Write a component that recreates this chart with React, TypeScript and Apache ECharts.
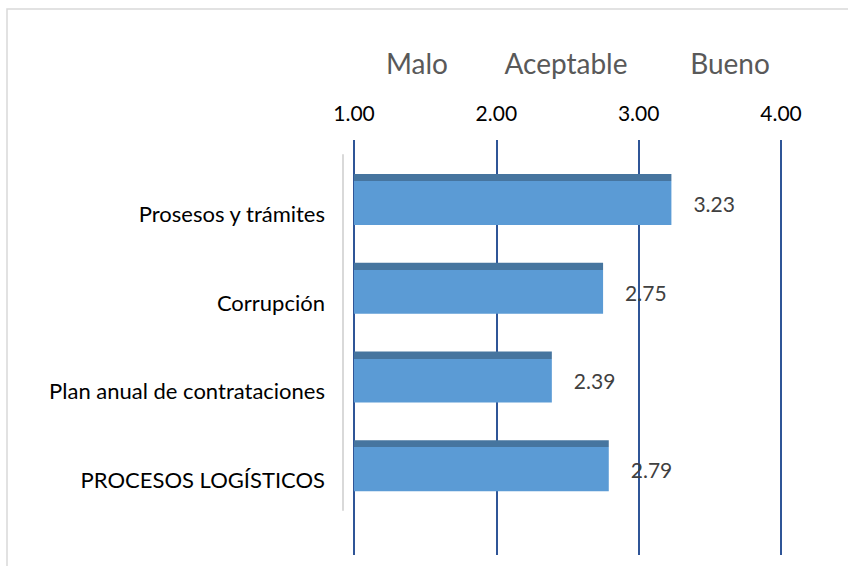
import React, { useEffect, useRef } from "react";
import * as echarts from "echarts";

const categories = [
  "Prosesos y trámites",
  "Corrupción",
  "Plan anual de contrataciones",
  "PROCESOS LOGÍSTICOS",
];
const values = [3.23, 2.75, 2.39, 2.79];
const scaleLabels = ["Malo", "Aceptable", "Bueno"];
const axisMin = 1;
const axisMax = 4;
const axisInterval = 1;

const FONT = "Lato";
const BLUE = "#2f5597";

export default function App() {
  const ref = useRef<HTMLDivElement>(null);
  useEffect(() => {
    if (!ref.current) return;
    const chart = echarts.init(ref.current, null, { renderer: "svg" });
    const scaleX = [417, 566, 730];
    chart.setOption({
      animation: false,
      backgroundColor: "#ffffff",
      textStyle: { fontFamily: FONT },
      grid: { left: 354, right: 67, top: 155, bottom: 56, containLabel: false },
      graphic: [
        {
          type: "rect",
          shape: { x: 7, y: 9, width: 900, height: 600 },
          style: { fill: "none", stroke: "#d9d9d9", lineWidth: 1.5 },
          silent: true,
        },
        ...scaleLabels.map((t, i) => ({
          type: "text",
          x: scaleX[i],
          y: 63,
          style: {
            text: t,
            fill: "#595959",
            font: `28px ${FONT}`,
            align: "center",
            verticalAlign: "middle",
          },
        })),
      ],
      xAxis: [
        {
          type: "value",
          position: "top",
          min: axisMin,
          max: axisMax,
          interval: axisInterval,
          axisLine: { show: false },
          axisTick: { show: true, length: 15, lineStyle: { color: BLUE, width: 2 } },
          axisLabel: {
            margin: 32,
            color: "#000000",
            fontSize: 21,
            fontFamily: FONT,
            formatter: (v: number) => v.toFixed(2),
          },
          splitLine: { show: true, lineStyle: { color: BLUE, width: 2 } },
        },
        {
          type: "value",
          position: "bottom",
          min: axisMin,
          max: axisMax,
          interval: axisInterval,
          axisLine: { show: false },
          axisTick: { show: true, length: 45, lineStyle: { color: BLUE, width: 2 } },
          axisLabel: { show: false },
          splitLine: { show: false },
        },
      ],
      yAxis: {
        type: "category",
        data: categories,
        inverse: true,
        offset: 11,
        axisLine: { show: true, lineStyle: { color: "#d9d9d9", width: 2 } },
        axisTick: { show: false },
        axisLabel: {
          color: "#000000",
          fontSize: 22,
          fontFamily: FONT,
          margin: 18,
          verticalAlign: "top",
          lineHeight: 28,
        },
      },
      series: [
        {
          type: "bar",
          data: values,
          barWidth: 51,
          itemStyle: {
            color: new echarts.graphic.LinearGradient(0, 0, 0, 1, [
              { offset: 0, color: "#46759f" },
              { offset: 0.14, color: "#46759f" },
              { offset: 0.14, color: "#5b9bd5" },
              { offset: 1, color: "#5b9bd5" },
            ]),
          },
          label: {
            show: true,
            position: "right",
            distance: 22,
            offset: [0, 4],
            color: "#404040",
            fontSize: 21,
            fontFamily: FONT,
            formatter: (p: any) => p.value.toFixed(2),
          },
        },
      ],
    });
    return () => chart.dispose();
  }, []);
  return (
    <div
      ref={ref}
      style={{ position: "fixed", left: 0, top: 0, width: 848, height: 566 }}
    />
  );
}
